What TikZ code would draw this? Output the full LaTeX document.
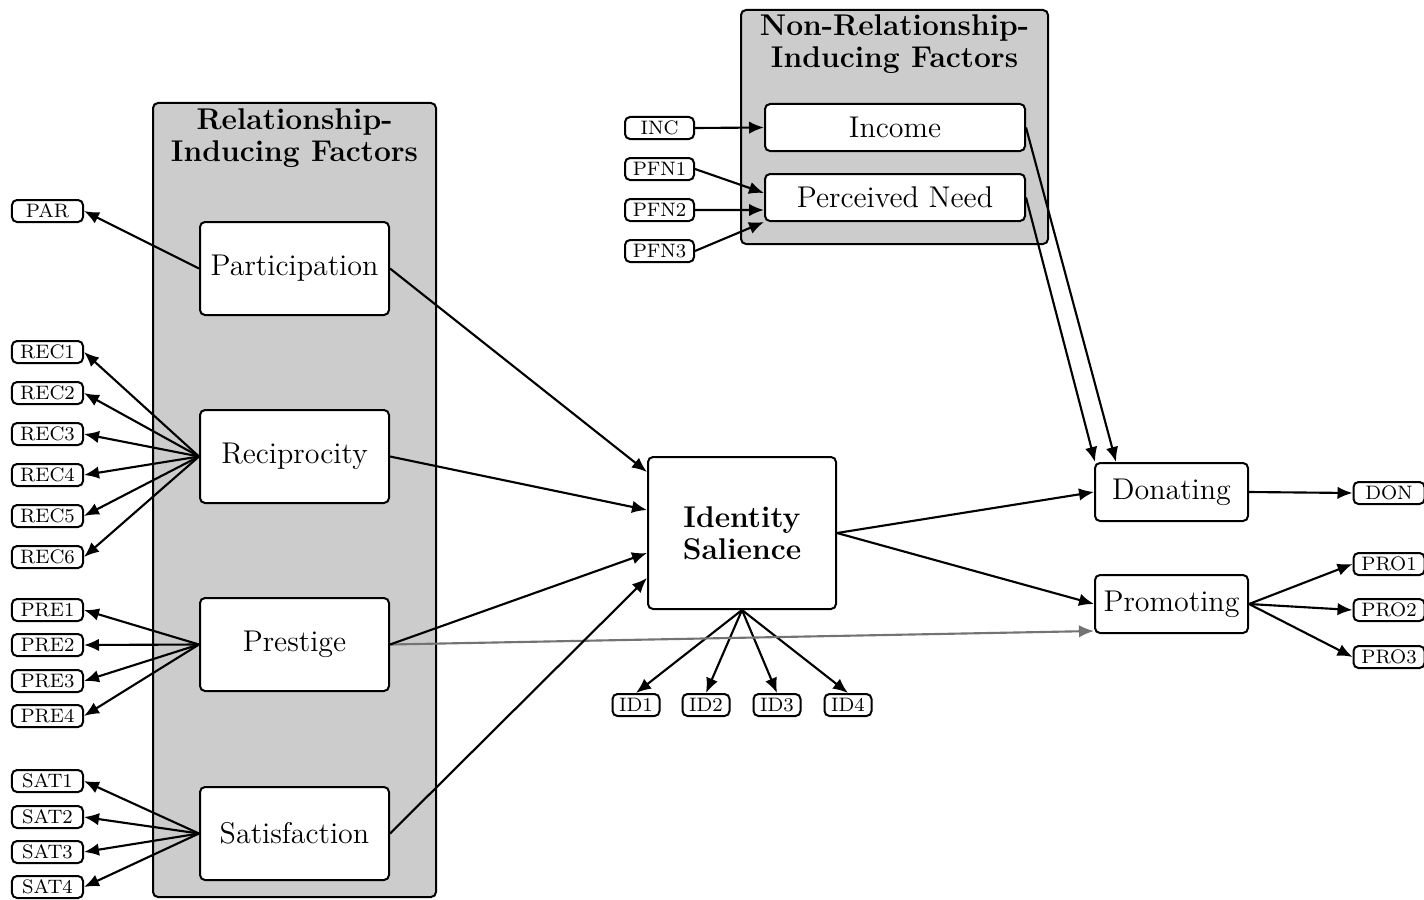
\documentclass[tikz,border=0pt]{standalone}
\usetikzlibrary{arrows.meta,positioning}
\tikzset{factor/.style={draw, line width=0.8pt, rounded corners=2pt, fill=white, minimum width=75.6pt, minimum height=37.2pt, inner sep=1pt, font=\fontsize{12}{14}\selectfont},
  item/.style={draw, line width=0.8pt, rounded corners=2pt, fill=white, minimum width=28.4pt, minimum height=8.8pt, inner sep=0pt, font=\fontsize{7.8}{8}\selectfont},
  group/.style={draw, line width=0.8pt, rounded corners=2pt, fill=black!20},
  grouptitle/.style={align=center, font=\fontsize{12}{12.8}\selectfont\bfseries},
  link/.style={line width=0.85pt, -{Latex[length=6pt,width=5pt]}},
  faint/.style={link, draw=black!55, -{Latex[length=6pt,width=5pt,fill=black!55]}}}
\begin{document}
\begin{tikzpicture}[x=0.4pt, y=-0.4pt]
    \useasboundingbox (0,0) rectangle (1424,899);
    % groups
    \node[group, minimum width=113.2pt, minimum height=317.6pt] (RIF) at (294.5,500) {};
    \node[grouptitle] (RIFt) at (294.5,138) {Relationship-\\Inducing Factors};
    \node[group, minimum width=122.8pt, minimum height=93.6pt] (NRIF) at (894.5,127) {};
    \node[grouptitle] (NRIFt) at (894.5,44) {Non-Relationship-\\Inducing Factors};
    % factors
    \node[factor] (PA) at (294.5,268.5) {Participation};
    \node[factor] (RE) at (294.5,456.5) {Reciprocity};
    \node[factor] (PR) at (294.5,644.5) {Prestige};
    \node[factor] (SA) at (294.5,833.5) {Satisfaction};
    \node[factor, minimum width=75.2pt, minimum height=60.8pt, align=center, font=\fontsize{12}{12.8}\selectfont\bfseries] (IS) at (742,533) {Identity\\Salience};
    \node[factor, minimum width=104pt, minimum height=18.8pt] (IN) at (895,127.5) {Income};
    \node[factor, minimum width=104pt, minimum height=18.8pt] (PN) at (895,197.5) {Perceived Need};
    \node[factor, minimum width=61.2pt, minimum height=23.2pt] (DO) at (1171.5,492) {Donating};
    \node[factor, minimum width=61.2pt, minimum height=23.2pt] (PM) at (1171.5,604) {Promoting};
    % indicators
    \node[item] (PAR) at (47.5,211) {PAR};
    \foreach \i/\y in {1/352,2/393,3/434,4/475,5/516,6/557}
        \node[item] (REC\i) at (47.5,\y) {REC\i};
    \foreach \i/\y in {1/610,2/645,3/681,4/716}
        \node[item] (PRE\i) at (47.5,\y) {PRE\i};
    \foreach \i/\y in {1/781,2/817,3/852,4/887}
        \node[item] (SAT\i) at (47.5,\y) {SAT\i};
    \node[item, minimum width=27.6pt] (INC) at (659.5,128) {INC};
    \foreach \i/\y in {1/169,2/210,3/251}
        \node[item, minimum width=27.6pt] (PFN\i) at (659.5,\y) {PFN\i};
    \foreach \i/\x in {1/636,2/706,3/777,4/848}
        \node[item, minimum width=18.8pt] (ID\i) at (\x,705) {ID\i};
    \node[item] (DON) at (1389,493) {DON};
    \foreach \i/\y in {1/564,2/610,3/657}
        \node[item] (PRO\i) at (1389,\y) {PRO\i};
    % measurement arrows
    \draw[link] (PA.west) -- (PAR.east);
    \foreach \i in {1,...,6} \draw[link] (RE.west) -- (REC\i.east);
    \foreach \i in {1,...,4} \draw[link] (PR.west) -- (PRE\i.east);
    \foreach \i in {1,...,4} \draw[link] (SA.west) -- (SAT\i.east);
    \foreach \i in {1,...,4} \draw[link] (IS.south) -- (ID\i.north);
    \draw[link] (DO.east) -- (DON.west);
    \foreach \i in {1,...,3} \draw[link] (PM.east) -- (PRO\i.west);
    \draw[link] (INC.east) -- (IN.west);
    \draw[link] (PFN1.east) -- ([yshift=1.8pt]PN.west);
    \draw[link] (PFN2.east) -- ([yshift=-5pt]PN.west);
    \draw[link] (PFN3.east) -- (PN.south west);
    % structural paths
    \draw[faint] (PR.east) -- ([yshift=1.2pt]PM.south west);
    \draw[link] (PA.east) -- ([yshift=24.4pt]IS.west);
    \draw[link] (RE.east) -- ([yshift=9.2pt]IS.west);
    \draw[link] (PR.east) -- ([yshift=-8pt]IS.west);
    \draw[link] (SA.east) -- ([yshift=-18pt]IS.west);
    \draw[link] (IS.east) -- (DO.west);
    \draw[link] (IS.east) -- (PM.west);
    \draw[link] (IN.east) -- ([xshift=8.8pt]DO.north west);
    \draw[link] (PN.east) -- ([xshift=0.4pt]DO.north west);
\end{tikzpicture}
\end{document}
